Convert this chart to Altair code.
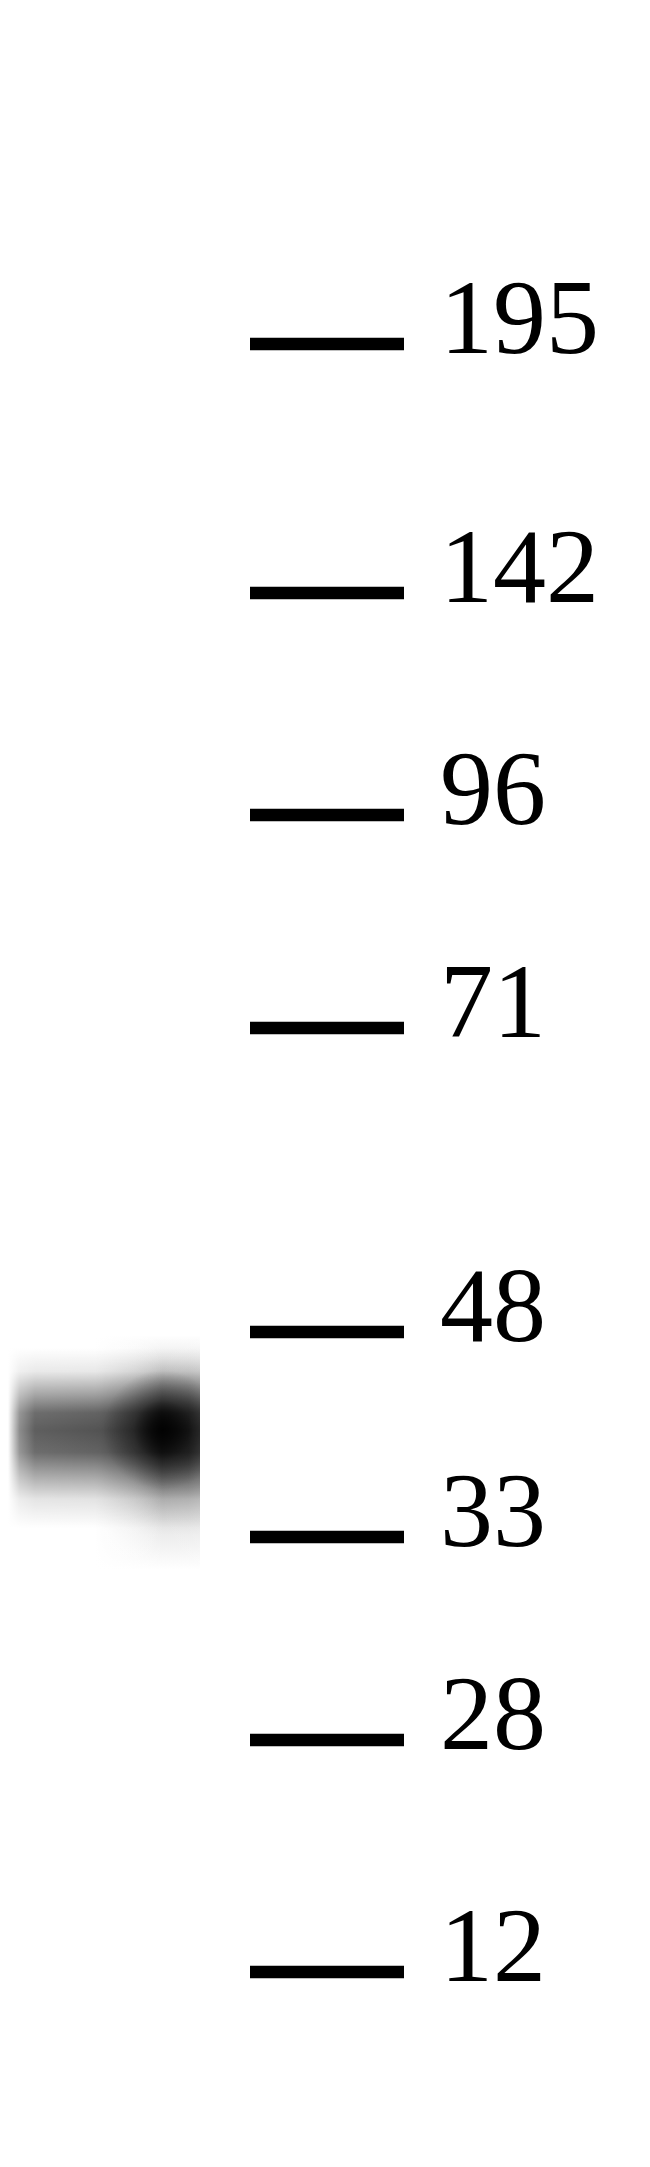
import altair as alt
import pandas as pd

# Protein ladder: marker sizes (kDa) and their migration distance on the blot (px from top)
marker_kda = [195, 142, 96, 71, 48, 33, 28, 12]
marker_migration = [344, 593, 815, 1028, 1332, 1537, 1740, 1972]

# Sample lane: one detected band (migration distance and position of its darkest point)
band_lane = ["sample"]
band_migration = [1430]
band_peak_x = [163]

W, H = 634, 2145
OX, OY = 8, 8
xs = alt.Scale(domain=[OX, OX + W], range=[0, W], nice=False, zero=False)
ys = alt.Scale(domain=[OY, OY + H], range=[0, H], nice=False, zero=False)

markers = pd.DataFrame({"kda": marker_kda, "mig": marker_migration})
band = pd.DataFrame({"lane": band_lane, "mig": band_migration, "peak": band_peak_x})


def lin(stops, horizontal=False, rgb="0,0,0"):
    return {
        "gradient": "linear",
        "x1": 0, "y1": 0,
        "x2": 1 if horizontal else 0, "y2": 0 if horizontal else 1,
        "stops": [{"offset": o, "color": f"rgba({rgb},{a})"} for o, a in stops],
    }


def rad(stops, cx, cy, r, rgb="0,0,0"):
    return {
        "gradient": "radial",
        "x1": cx, "y1": cy, "r1": 0,
        "x2": cx, "y2": cy, "r2": r,
        "stops": [{"offset": o, "color": f"rgba({rgb},{a})"} for o, a in stops],
    }


def band_rect(x0, x1, top, bottom, fill):
    return (
        alt.Chart(band)
        .transform_calculate(
            bx0=str(x0), bx1=str(x1),
            by0=f"datum.mig - {top}", by1=f"datum.mig + {bottom}",
        )
        .mark_rect(fill=fill)
        .encode(
            x=alt.X("bx0:Q", scale=xs, axis=None),
            x2="bx1:Q",
            y=alt.Y("by0:Q", scale=ys, axis=None),
            y2="by1:Q",
        )
    )


# tall faint flare on the right part of the band (tail toward lower MW)
flare = band_rect(95, 200, 95, 140, lin([
    (0.0, 0), (0.1, 0.08), (0.25, 0.3), (0.4, 0.5), (0.55, 0.42),
    (0.7, 0.22), (0.85, 0.08), (1.0, 0),
], rgb="20,20,20"))
flare_fade = band_rect(95, 200, 100, 145, lin([
    (0.0, 1), (0.35, 0.5), (0.65, 0), (1.0, 0),
], horizontal=True, rgb="255,255,255"))

# main body of the band
body = band_rect(8, 200, 82, 98, lin([
    (0.0, 0), (0.13, 0.12), (0.26, 0.5), (0.36, 0.82), (0.46, 0.9),
    (0.58, 0.82), (0.7, 0.5), (0.84, 0.15), (1.0, 0),
]))
# horizontal intensity profile (lighter on the left, darkest near the peak)
body_fade = band_rect(8, 200, 100, 145, lin([
    (0.0, 1), (0.06, 0.5), (0.14, 0.3), (0.48, 0.25), (0.66, 0.14),
    (0.8, 0.0), (0.94, 0.06), (1.0, 0.14),
], horizontal=True, rgb="255,255,255"))

# darkest core (square 120 px gradient area, centred on peak)
core = band_rect(103, 200, 60, 60, rad([
    (0.0, 0.85), (0.2, 0.65), (0.5, 0.25), (1.0, 0),
], 0.596, 0.5, 0.5))

bars = (
    alt.Chart(markers)
    .transform_calculate(x0="250", x1="404")
    .mark_rule(strokeWidth=12.5, strokeCap="butt", color="#000000")
    .encode(
        x=alt.X("x0:Q", scale=xs, axis=None),
        x2="x1:Q",
        y=alt.Y("mig:Q", scale=ys, axis=None),
    )
)

labels = (
    alt.Chart(markers)
    .transform_calculate(lx="440")
    .mark_text(align="left", baseline="alphabetic", dy=9,
               font="Liberation Serif", fontSize=106, color="#000000")
    .encode(
        x=alt.X("lx:Q", scale=xs, axis=None),
        y=alt.Y("mig:Q", scale=ys, axis=None),
        text="kda:N",
    )
)

chart = (
    alt.layer(flare, flare_fade, body, body_fade, core, bars, labels)
    .properties(width=W, height=H, padding=0, background="white")
    .configure_view(stroke="transparent")
)

chart.save("out.html", embed_options={"renderer": "svg", "actions": False})
